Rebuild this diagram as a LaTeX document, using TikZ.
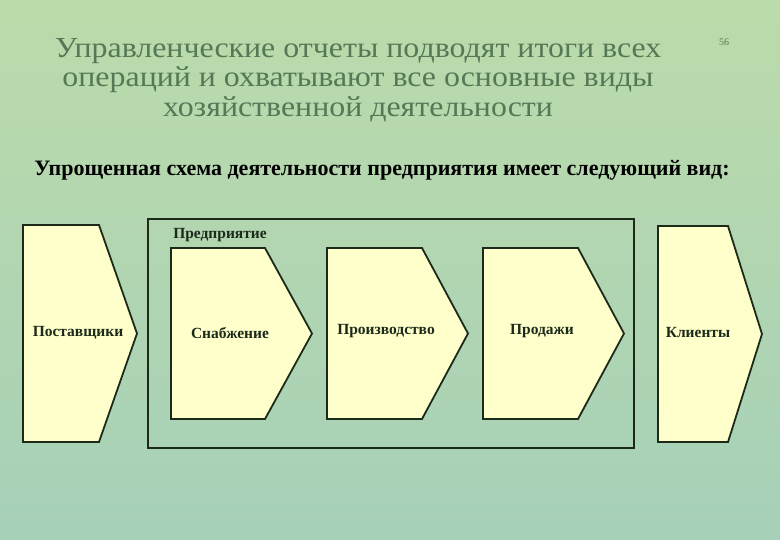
\documentclass[tikz,border=0pt]{standalone}
\usepackage{fontspec}
\setmainfont{Liberation Serif}
\newfontfamily\titlefont[FakeStretch=1.1]{Liberation Serif}
\definecolor{bgtop}{HTML}{BCDBAA}
\definecolor{bgbottom}{HTML}{A6D0B8}
\definecolor{titlegreen}{HTML}{557957}
\definecolor{boxfill}{HTML}{FFFFCC}
\definecolor{boxline}{HTML}{1C2A1A}
\tikzset{
  stage/.style={draw=boxline, fill=boxfill, line width=1.8pt, line join=miter},
  stagetext/.style={font=\bfseries\fontsize{15.5}{17}\selectfont, text=boxline},
  titletext/.style={font=\titlefont\fontsize{29}{29.5}\selectfont, text=titlegreen, align=center}
}
% a chevron: left, top, top-right, tip, bottom
\newcommand{\chevron}[5]{%
  \draw[stage] (#1,#2) -- (#3,#2) -- (#4,{(#2+#5)/2}) -- (#3,#5) -- (#1,#5) -- cycle;}
\begin{document}
\begin{tikzpicture}[x=1pt, y=-1pt]
    % Background
    \shade[top color=bgtop, bottom color=bgbottom] (0,0) rectangle (780,540);
    \useasboundingbox (0,0) rectangle (780,540);

    % Title
    \node[titletext] (title) at (358,80) {Управленческие отчеты подводят итоги всех\\
      операций и охватывают все основные виды\\хозяйственной деятельности};
    \node[font=\fontsize{10}{10}\selectfont, text=titlegreen] (page) at (724,42) {56};

    % Subtitle
    \node[font=\bfseries\fontsize{22}{22}\selectfont] (subtitle) at (382,170)
      {Упрощенная схема деятельности предприятия имеет следующий вид:};

    % Enterprise frame
    \draw[draw=boxline, line width=1.8pt] (148,219) rectangle (634,448);
    \node[stagetext] (enterprise) at (220,235) {Предприятие};

    % Stages
    \chevron{23}{225}{99}{137}{442}
    \chevron{171}{248}{265}{312}{419}
    \chevron{327}{248}{422}{468}{419}
    \chevron{483}{248}{578}{624}{419}
    \chevron{658}{226}{728}{762}{442}
    \node[stagetext] (suppliers) at (78,333) {Поставщики};
    \node[stagetext] (supply) at (230,333) {Снабжение};
    \node[stagetext] (production) at (386,331) {Производство};
    \node[stagetext] (sales) at (542,331) {Продажи};
    \node[stagetext] (clients) at (698,333) {Клиенты};
\end{tikzpicture}
\end{document}
